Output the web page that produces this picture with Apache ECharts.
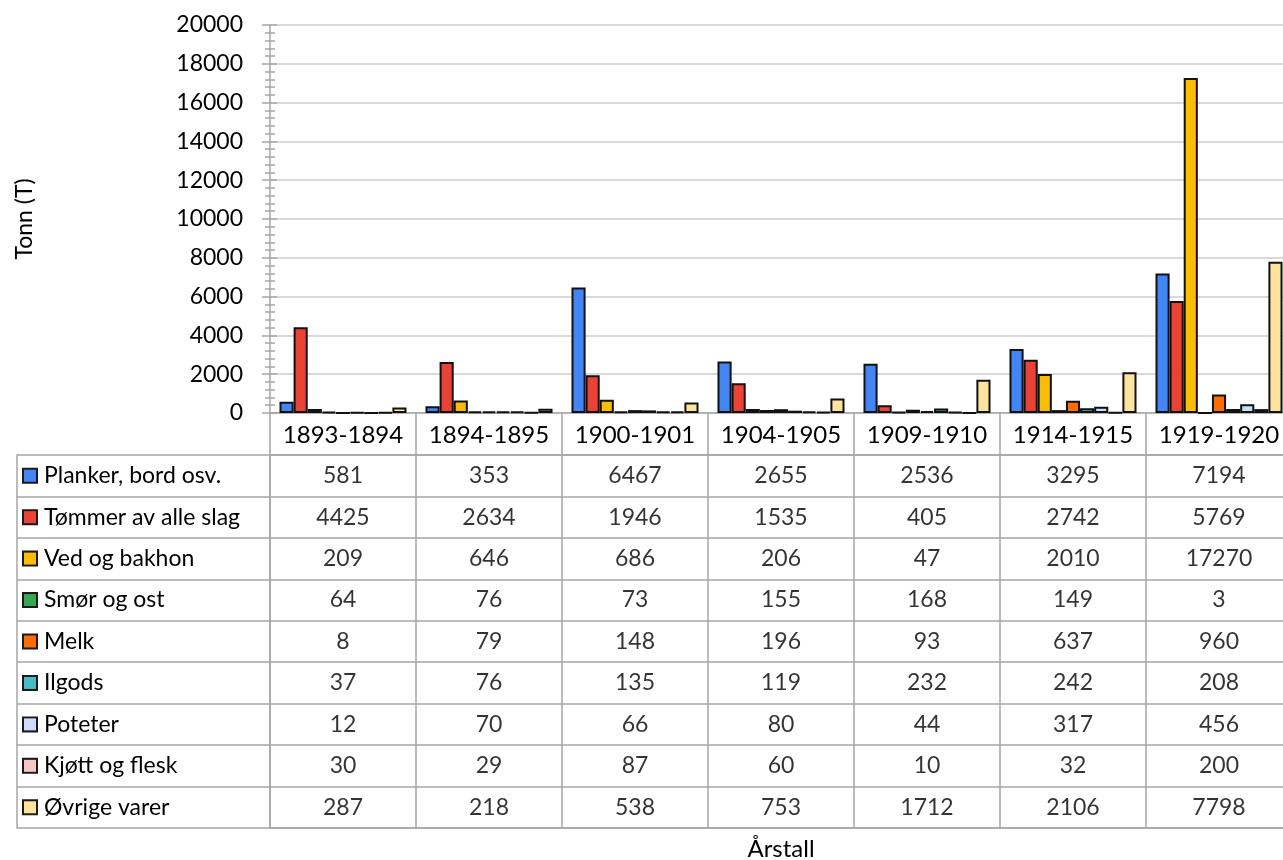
<!DOCTYPE html>
<html>
<head>
<meta charset="utf-8">
<script src="https://cdn.jsdelivr.net/npm/echarts@6/dist/echarts.min.js"></script>
<style>
  html, body { margin: 0; padding: 0; background: #ffffff; }
  #chart { width: 1283px; height: 860px; }
</style>
</head>
<body>
<div id="chart"></div>
<script>
// Goods transported per season, tonnes
const categories = ['1893-1894', '1894-1895', '1900-1901', '1904-1905', '1909-1910', '1914-1915', '1919-1920'];
const seriesNames = ['Planker, bord osv.', 'Tømmer av alle slag', 'Ved og bakhon', 'Smør og ost', 'Melk', 'Ilgods', 'Poteter', 'Kjøtt og flesk', 'Øvrige varer'];

const planker = [581, 353, 6467, 2655, 2536, 3295, 7194];
const tommer  = [4425, 2634, 1946, 1535, 405, 2742, 5769];
const ved     = [209, 646, 686, 206, 47, 2010, 17270];
const smor    = [64, 76, 73, 155, 168, 149, 3];
const melk    = [8, 79, 148, 196, 93, 637, 960];
const ilgods  = [37, 76, 135, 119, 232, 242, 208];
const poteter = [12, 70, 66, 80, 44, 317, 456];
const kjott   = [30, 29, 87, 60, 10, 32, 200];
const ovrige  = [287, 218, 538, 753, 1712, 2106, 7798];

const yMin = 0, yMax = 20000, yStep = 2000;

const seriesValues = [planker, tommer, ved, smor, melk, ilgods, poteter, kjott, ovrige];
const colors = ['#4285F4', '#EA4335', '#FBBC04', '#34A853', '#FF6D01', '#46BDC6', '#CCDCFA', '#F4C7C3', '#FCE49E'];

const FONT = 'Lato';
const tableLine = { color: '#a6a6a6', width: 1.5 };
const tickLine = { color: '#a6a6a6', width: 1.5 };

const rich = {};
colors.forEach((c, i) => {
  rich['s' + i] = { width: 12, height: 12, backgroundColor: c, borderColor: '#1a1a1a', borderWidth: 2 };
});
rich.t = { fontSize: 23, fontFamily: FONT, color: '#000', padding: [0, 0, 0, 8] };

const bars = seriesNames.map((name, i) => ({
  name: name,
  type: 'bar',
  xAxisIndex: 0,
  yAxisIndex: 0,
  data: seriesValues[i],
  barGap: '0%',
  barCategoryGap: '13%',
  itemStyle: { color: colors[i], borderColor: '#111', borderWidth: 2 }
}));

const cells = [];
seriesNames.forEach((name, i) => {
  categories.forEach((cat, j) => cells.push([cat, name, seriesValues[i][j]]));
});

const option = {
  animation: false,
  textStyle: { fontFamily: FONT },
  grid: [
    { left: 270, top: 25, width: 1022, height: 388, outerBoundsMode: 'none', containLabel: false },
    { left: 270, top: 455, width: 1022, height: 373, outerBoundsMode: 'none', containLabel: false }
  ],
  xAxis: [
    {
      gridIndex: 0, type: 'category', data: categories,
      axisLine: { lineStyle: tableLine },
      axisTick: { show: true, alignWithLabel: false, interval: 0, length: 42, lineStyle: tableLine },
      axisLabel: { interval: 0, margin: 10, fontSize: 24, color: '#000' },
      splitLine: { show: false }
    },
    {
      gridIndex: 1, type: 'category', data: categories, position: 'top',
      axisLine: { show: true, lineStyle: tableLine },
      axisTick: { show: false }, axisLabel: { show: false },
      splitLine: { show: true, interval: 0, lineStyle: tableLine }
    },
    {
      gridIndex: 1, type: 'category', data: categories, position: 'bottom',
      axisLine: { show: true, lineStyle: tableLine },
      axisTick: { show: false }, axisLabel: { show: false }, splitLine: { show: false },
      name: 'Årstall', nameLocation: 'middle', nameGap: 9,
      nameTextStyle: { fontSize: 24, color: '#000', fontFamily: FONT, verticalAlign: 'top' }
    }
  ],
  yAxis: [
    {
      gridIndex: 0, type: 'value', position: 'left', min: yMin, max: yMax, interval: yStep,
      axisLine: { show: true, lineStyle: tickLine },
      axisTick: { show: true, length: 8, lineStyle: tickLine },
      minorTick: { show: true, splitNumber: 5, length: 5, lineStyle: tickLine },
      splitLine: { show: true, lineStyle: { color: '#cccccc', width: 1.5 } },
      axisLabel: { fontSize: 23, color: '#000', margin: 27, formatter: v => String(v) },
      name: 'Tonn (T)', nameLocation: 'middle', nameGap: 234, nameRotate: 90,
      nameTextStyle: { fontSize: 23, color: '#000', fontFamily: FONT }
    },
    {
      gridIndex: 0, type: 'value', position: 'left', min: yMin, max: yMax, interval: yStep,
      axisLine: { show: false },
      axisTick: { show: true, inside: true, length: 7, lineStyle: tickLine },
      minorTick: { show: true, splitNumber: 5, length: 5, lineStyle: tickLine },
      splitLine: { show: false }, axisLabel: { show: false }
    },
    {
      gridIndex: 1, type: 'category', position: 'left', data: seriesNames, inverse: true,
      axisLine: { show: true, lineStyle: tableLine },
      axisTick: { show: true, interval: 0, alignWithLabel: false, length: 253, lineStyle: tableLine },
      axisLabel: {
        interval: 0, align: 'left', margin: 246,
        formatter: (v, idx) => '{s' + idx + '|}{t|' + v + '}',
        rich: rich
      },
      splitLine: { show: true, interval: 0, lineStyle: tableLine }
    },
    {
      gridIndex: 1, type: 'category', position: 'left', data: seriesNames, inverse: true, offset: 253,
      axisLine: { show: true, lineStyle: tableLine },
      axisTick: { show: false }, axisLabel: { show: false }, splitLine: { show: false }
    }
  ],
  series: bars.concat([{
    type: 'scatter',
    xAxisIndex: 1,
    yAxisIndex: 2,
    data: cells,
    symbol: 'rect',
    symbolSize: 1,
    itemStyle: { color: 'rgba(0,0,0,0)' },
    label: {
      show: true, position: 'inside',
      formatter: p => String(p.value[2]),
      fontSize: 23, color: '#000', fontFamily: FONT
    },
    silent: true
  }])
};

const chart = echarts.init(document.getElementById('chart'), null, { renderer: 'canvas' });
chart.setOption(option);
</script>
</body>
</html>
